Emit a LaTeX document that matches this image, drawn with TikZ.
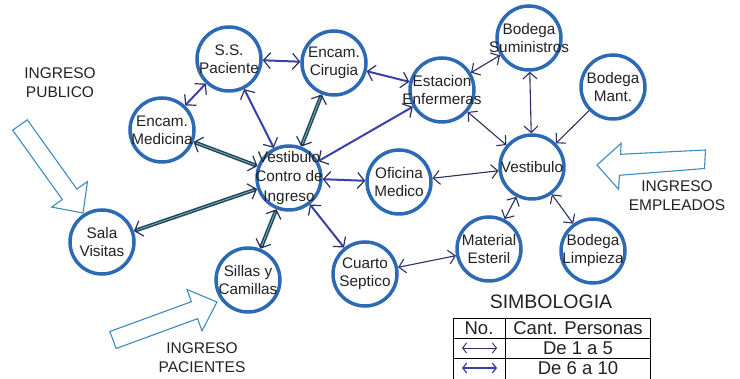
\documentclass[tikz,border=0pt]{standalone}
\usepackage{fontspec}
\setmainfont{Liberation Sans}
\usetikzlibrary{arrows.meta}
\definecolor{ringblue}{HTML}{2D6AB5}
\definecolor{midblue}{HTML}{3A40AA}
\definecolor{navyline}{HTML}{2B3060}
\definecolor{tealdark}{HTML}{1B4558}
\definecolor{teallight}{HTML}{7DA9B8}
\definecolor{entryblue}{HTML}{3C8CC0}
\definecolor{textgray}{HTML}{222222}
\begin{document}
\begin{tikzpicture}[x=1pt,y=-1pt,
  every node/.style={text=textgray},
  area/.style={circle, draw=ringblue, line width=3.5pt, minimum size=64pt, inner sep=0pt},
  lbl/.style={align=center, font=\fontsize{15.3}{18}\selectfont},
  thinflow/.style={draw=navyline, line width=1.1pt, {Straight Barb[length=6.5pt,width=14pt,line width=1.1pt]}-{Straight Barb[length=6.5pt,width=14pt,line width=1.1pt]}},
  oneway/.style={draw=navyline, line width=1.1pt, -{Straight Barb[length=6.5pt,width=14pt,line width=1.1pt]}},
  midflow/.style={draw=midblue, line width=2pt, {Straight Barb[length=7pt,width=16pt,line width=1.2pt,color=navyline]}-{Straight Barb[length=7pt,width=16pt,line width=1.2pt,color=navyline]}},
  bigflow/.style={draw=tealdark, line width=3.8pt, {Straight Barb[length=7pt,width=16pt,line width=1.2pt,color=navyline]}-{Straight Barb[length=7pt,width=16pt,line width=1.2pt,color=navyline]},
    postaction={draw=teallight, line width=0.9pt, arrows=-, shorten <=3pt, shorten >=3pt}},
  entry/.style={draw=entryblue, line width=1.1pt, line join=miter},
  entrytext/.style={align=center, font=\fontsize{15.5}{19}\selectfont},
  tabtxt/.style={font=\fontsize{18.5}{20}\selectfont}]
\useasboundingbox[fill=white] (0,0) rectangle (740,379);

% rooms
\node[area, label={[lbl]center:S.S.\\Paciente}] (ss) at (229,59) {};
\node[area, label={[lbl]center:Encam.\\Cirugia}] (cir) at (334,63) {};
\node[area, label={[lbl]center:Encam.\\Medicina}] (med) at (162,130) {};
\node[area, label={[lbl, font=\fontsize{15.3}{19.5}\selectfont]center:Vestibulo\\Contro de\\Ingreso}] (vci) at (289,178) {};
\node[area, label={[lbl]center:Estacion\\Enfermeras}] (est) at (442,90) {};
\node[area, label={[lbl]center:Bodega\\Suministros}] (bsum) at (529,38) {};
\node[area, label={[lbl]center:Bodega\\Mant.}] (bman) at (613,87) {};
\node[area, label={[lbl]center:Vestibulo}] (ves) at (532,167) {};
\node[area, label={[lbl]center:Oficina\\Medico}] (ofi) at (399,182) {};
\node[area, label={[lbl]center:Material\\Esteril}] (mat) at (489,249) {};
\node[area, label={[lbl]center:Bodega\\Limpieza}] (blim) at (593,251) {};
\node[area, label={[lbl]center:Cuarto\\Septico}] (cua) at (365,274) {};
\node[area, label={[lbl]center:Sillas y\\Camillas}] (sil) at (248,280) {};
\node[area, label={[lbl]center:Sala\\Visitas}] (sala) at (102,242) {};

% flows of 11 or more people
\draw[bigflow] (cir) -- (vci);
\draw[bigflow] (med) -- (vci);
\draw[bigflow] (sala) -- (vci);
\draw[bigflow] (sil) -- (vci);

% flows of 6 to 10 people
\draw[midflow] (ss) -- (cir);
\draw[midflow] (ss) -- (med);
\draw[midflow] (ss) -- (vci);
\draw[midflow] (cir) -- (est);
\draw[midflow] (vci) -- (est);
\draw[midflow] (vci) -- (ofi);
\draw[midflow] (vci) -- (cua);

% flows of 1 to 5 people
\draw[thinflow] (cua) -- (mat);
\draw[thinflow] (est) -- (bsum);
\draw[thinflow] (est) -- (ves);
\draw[thinflow] (bsum) -- (ves);
\draw[oneway] (bman) -- (ves);
\draw[thinflow] (ofi) -- (ves);
\draw[thinflow] (ves) -- (mat);
\draw[thinflow] (ves) -- (blim);

% entrances
\draw[entry] (83,213) -- (51.7,207.1) -- (62.3,199.5) -- (12.7,130.2) -- (27.3,119.8) -- (76.9,189.1) -- (87.5,181.5) -- cycle;
\node[entrytext] (ipub) at (60,83) {INGRESO\\PUBLICO};

\draw[entry] (597,165) -- (621.2,143.3) -- (620.5,154.3) -- (705.5,150) -- (704.5,168.5) -- (619.4,175.3) -- (618.6,189.3) -- cycle;
\node[entrytext] (iemp) at (677,196) {INGRESO\\EMPLEADOS};

\draw[entry] (217,302) -- (202.0,330.9) -- (197.6,318.7) -- (116.1,348.5) -- (109.9,331.5) -- (191.4,301.7) -- (187.0,289.5) -- cycle;
\node[entrytext] (ipac) at (202,358) {INGRESO\\PACIENTES};

% legend
\node[font=\fontsize{19.5}{22}\selectfont] (simb) at (551,302) {SIMBOLOGIA};
\draw[black, line width=0.9pt] (453,380) -- (453,318) -- (650,318) -- (650,380);
\draw[black, line width=0.9pt] (505,318) -- (505,380);
\draw[black, line width=0.9pt] (453,338) -- (650,338);
\draw[black, line width=0.9pt] (453,358) -- (650,358);
\node[tabtxt] (hno) at (479,328.5) {No.};
\node[tabtxt] (hcant) at (578,328.5) {Cant. Personas};
\node[tabtxt] (r1) at (578,348.5) {De 1 a 5};
\node[tabtxt] (r2) at (578,368.5) {De 6 a 10};
\coordinate (k1a) at (462,348);
\coordinate (k1b) at (497,348);
\coordinate (k2a) at (462,368);
\coordinate (k2b) at (497,368);
\draw[draw=navyline, line width=0.9pt, {Straight Barb[length=4pt,width=10pt,line width=0.9pt]}-{Straight Barb[length=4pt,width=10pt,line width=0.9pt]}] (k1a) -- (k1b);
\draw[draw=midblue, line width=2pt, {Straight Barb[length=4pt,width=10pt,line width=1.2pt]}-{Straight Barb[length=4pt,width=10pt,line width=1.2pt]}] (k2a) -- (k2b);
\end{tikzpicture}
\end{document}
